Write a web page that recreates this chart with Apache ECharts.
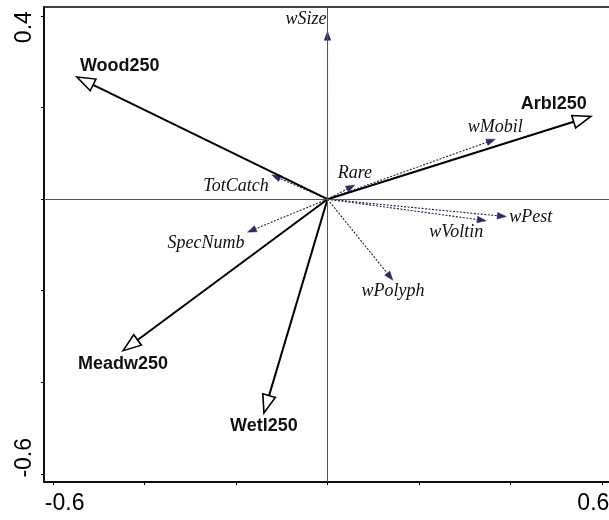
<!DOCTYPE html>
<html>
<head>
<meta charset="utf-8">
<script src="https://cdn.jsdelivr.net/npm/echarts@6/dist/echarts.min.js"></script>
<style>
  html, body { margin: 0; padding: 0; background: #fff; }
  #chart { width: 609px; height: 520px; }
</style>
</head>
<body>
<div id="chart"></div>
<script>
// Environmental variables (bold arrows with open heads)
const envNames = ['Wood250', 'Arbl250', 'Meadw250', 'Wetl250'];
const envX = [-0.548, 0.576, -0.447, -0.139];
const envY = [0.267, 0.181, -0.331, -0.467];

// Response variables (dotted arrows with filled heads)
const spNames = ['wSize', 'wMobil', 'Rare', 'TotCatch', 'SpecNumb', 'wPolyph', 'wPest', 'wVoltin'];
const spX = [0.000, 0.367, 0.060, -0.122, -0.175, 0.143, 0.391, 0.347];
const spY = [0.367, 0.131, 0.031, 0.053, -0.072, -0.177, -0.038, -0.047];

// Axis ticks and labelled tick values
const xTicks = [-0.6, -0.4, -0.2, 0, 0.2, 0.4, 0.6];
const yTicks = [-0.6, -0.4, -0.2, 0, 0.2, 0.4];
const xTickLabels = [-0.6, 0.6];
const yTickLabels = [-0.6, 0.4];

// Label placement next to each arrow tip: [dx, dy, align] in pixels
const envLabelPos = [[3, -11, 'left'], [-4, -12, 'right'], [0, 13, 'center'], [0, 13, 'center']];
const spLabelPos = [[-1, -12, 'right'], [0, -12, 'center'], [0, -12, 'center'], [-3, 11, 'right'],
                    [-3, 11, 'right'], [0, 11, 'center'], [3, 1, 'left'], [-3, 12, 'right']];

const chart = echarts.init(document.getElementById('chart'), null, { renderer: 'canvas' });

function arrowRenderer(names, placements, opts) {
  return function (params, api) {
    const o = api.coord([0, 0]);
    const t = api.coord([api.value(0), api.value(1)]);
    const dx = t[0] - o[0], dy = t[1] - o[1];
    const len = Math.sqrt(dx * dx + dy * dy) || 1;
    const ux = dx / len, uy = dy / len;
    const nx = -uy, ny = ux;
    const bx = t[0] - ux * opts.headLen, by = t[1] - uy * opts.headLen;
    const p = placements[params.dataIndex];
    return {
      type: 'group',
      children: [
        {
          type: 'line',
          shape: { x1: o[0], y1: o[1], x2: bx, y2: by },
          style: { stroke: opts.lineColor, lineWidth: opts.lineWidth, lineDash: opts.lineDash }
        },
        {
          type: 'polygon',
          shape: { points: [[t[0], t[1]], [bx + nx * opts.headHalf, by + ny * opts.headHalf], [bx - nx * opts.headHalf, by - ny * opts.headHalf]] },
          style: { fill: opts.headFill, stroke: opts.headStroke, lineWidth: opts.headStrokeWidth }
        },
        {
          type: 'text',
          style: {
            text: names[params.dataIndex],
            x: t[0] + p[0], y: t[1] + p[1],
            align: p[2], verticalAlign: 'middle',
            font: opts.font, fill: opts.textColor
          }
        }
      ]
    };
  };
}

const axisFont = 'Liberation Sans, Arial, sans-serif';

chart.setOption({
  animation: false,
  grid: {
    left: 44, top: 7, right: -2, bottom: 38,
    outerBoundsMode: 'none', containLabel: false,
    show: true, borderColor: '#000', borderWidth: 1.5, backgroundColor: 'transparent'
  },
  xAxis: {
    type: 'value', min: -0.62, max: 0.62,
    splitLine: { show: false },
    axisLine: { show: true, onZero: false, lineStyle: { color: '#000', width: 1.5 } },
    axisTick: { show: true, customValues: xTicks, length: 3, lineStyle: { color: '#000', width: 1 } },
    axisLabel: {
      show: true, customValues: xTickLabels, margin: 10,
      color: '#000', fontFamily: axisFont, fontSize: 23,
      formatter: function (v) { return v < 0 ? '{l|' + v.toFixed(1) + '}' : '{r|' + v.toFixed(1) + '}'; },
      rich: {
        l: { fontFamily: axisFont, fontSize: 23, color: '#000', padding: [0, 0, 0, 23] },
        r: { fontFamily: axisFont, fontSize: 23, color: '#000', padding: [0, 17, 0, 0] }
      }
    }
  },
  yAxis: {
    type: 'value', min: -0.618, max: 0.42,
    splitLine: { show: false },
    axisLine: { show: true, onZero: false, lineStyle: { color: '#000', width: 1.5 } },
    axisTick: { show: true, customValues: yTicks, length: 3, lineStyle: { color: '#000', width: 1 } },
    axisLabel: {
      show: true, customValues: yTickLabels, rotate: 90, margin: 8,
      color: '#000', fontFamily: axisFont, fontSize: 23,
      formatter: function (v) { return v < 0 ? '{l|' + v.toFixed(1) + '}' : '{r|' + v.toFixed(1) + '}'; },
      rich: {
        l: { fontFamily: axisFont, fontSize: 23, color: '#000', padding: [0, 0, 0, 32] },
        r: { fontFamily: axisFont, fontSize: 23, color: '#000', padding: [0, 22, 0, 0] }
      }
    }
  },
  series: [
    {
      // zero reference lines through the origin
      type: 'line', data: [], z: 1, silent: true,
      markLine: {
        silent: true, symbol: ['none', 'none'], animation: false,
        label: { show: false },
        lineStyle: { type: 'solid', color: '#555', width: 1 },
        data: [{ xAxis: 0 }, { yAxis: 0 }]
      }
    },
    {
      type: 'custom', z: 3, clip: false, silent: true,
      data: spX.map((x, i) => [x, spY[i]]),
      renderItem: arrowRenderer(spNames, spLabelPos, {
        headLen: 9, headHalf: 3.3, lineColor: '#222244', lineWidth: 1.1, lineDash: [2, 1.5],
        headFill: '#2a2a66', headStroke: '#2a2a66', headStrokeWidth: 0.5,
        font: 'italic 18px "Liberation Serif", "Times New Roman", serif', textColor: '#111'
      })
    },
    {
      type: 'custom', z: 4, clip: false, silent: true,
      data: envX.map((x, i) => [x, envY[i]]),
      renderItem: arrowRenderer(envNames, envLabelPos, {
        headLen: 18, headHalf: 6.5, lineColor: '#000', lineWidth: 2, lineDash: null,
        headFill: '#fff', headStroke: '#000', headStrokeWidth: 1.6,
        font: 'bold 18px "Liberation Sans", Arial, sans-serif', textColor: '#111'
      })
    }
  ]
});
</script>
</body>
</html>
